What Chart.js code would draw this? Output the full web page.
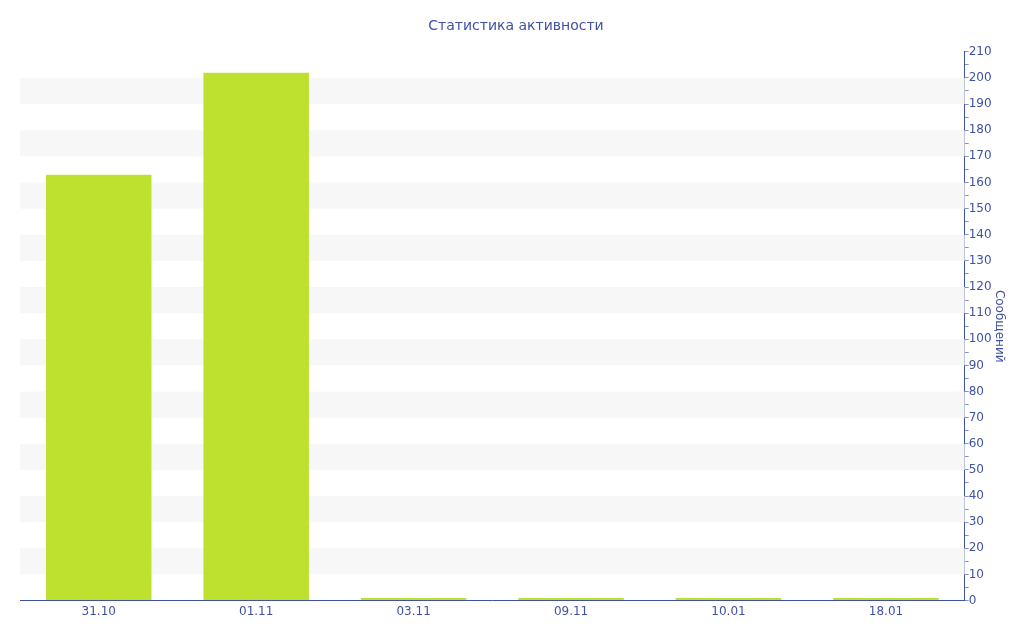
<!DOCTYPE html>
<html>
<head>
<meta charset="utf-8">
<script src="https://cdn.jsdelivr.net/npm/chart.js@4.4.0/dist/chart.umd.min.js"></script>
<style>
  html, body { margin: 0; padding: 0; background: #fff; }
  #wrap { width: 1024px; height: 640px; }
</style>
</head>
<body>
<div id="wrap"><canvas id="myChart" width="1024" height="640"></canvas></div>
<script>
// data
const days = ["31.10", "01.11", "03.11", "09.11", "10.01", "18.01"];
const messages = [163, 202, 1, 1, 1, 1];
const yMax = 210;

const blue = "#3f51a3";

// light grey stripes between every second pair of 10-ticks
const stripes = {
  id: "stripes",
  beforeDatasetsDraw(chart) {
    let ctx = chart.ctx;
    let y = chart.scales.y;
    let area = chart.chartArea;
    ctx.save();
    ctx.fillStyle = "#f7f7f7";
    for (let v = 10; v < yMax; v += 20) {
      let top = y.getPixelForValue(v + 10);
      let bottom = y.getPixelForValue(v);
      ctx.fillRect(area.left, top, area.right - area.left, bottom - top);
    }
    ctx.restore();
  }
};

new Chart(document.getElementById("myChart").getContext("2d"), {
  type: "bar",
  data: {
    labels: days,
    datasets: [{
      label: "Сообщений",
      data: messages,
      backgroundColor: "#bde12e",
      borderWidth: 0,
      categoryPercentage: 1,
      barPercentage: 0.67
    }]
  },
  options: {
    responsive: false,
    animation: false,
    layout: { padding: { left: 20, right: 12, top: 0, bottom: 25 } },
    plugins: {
      legend: { display: false },
      tooltip: { enabled: false },
      title: {
        display: true,
        text: "Статистика активности",
        color: blue,
        font: { family: "DejaVu Sans", size: 14, weight: "normal" },
        padding: { top: 18, bottom: 17 }
      }
    },
    scales: {
      x: {
        grid: { display: false, drawTicks: true },
        border: { color: blue, width: 1 },
        ticks: {
          color: blue,
          font: { family: "DejaVu Sans", size: 12 },
          padding: -4
        }
      },
      y: {
        position: "right",
        min: 0,
        max: yMax,
        border: { color: blue, width: 1 },
        grid: {
          drawOnChartArea: false,
          drawTicks: true,
          tickLength: 4,
          tickColor: "#8a93c0"
        },
        ticks: {
          stepSize: 5,
          autoSkip: false,
          color: blue,
          padding: 0,
          font: { family: "DejaVu Sans", size: 12 },
          callback: function (v) { return v % 10 == 0 ? v : ""; }
        },
        title: {
          display: true,
          text: "Сообщений",
          color: blue,
          font: { family: "DejaVu Sans", size: 12 },
          padding: { top: 6, bottom: 0 }
        }
      }
    }
  },
  plugins: [stripes]
});
</script>
</body>
</html>
